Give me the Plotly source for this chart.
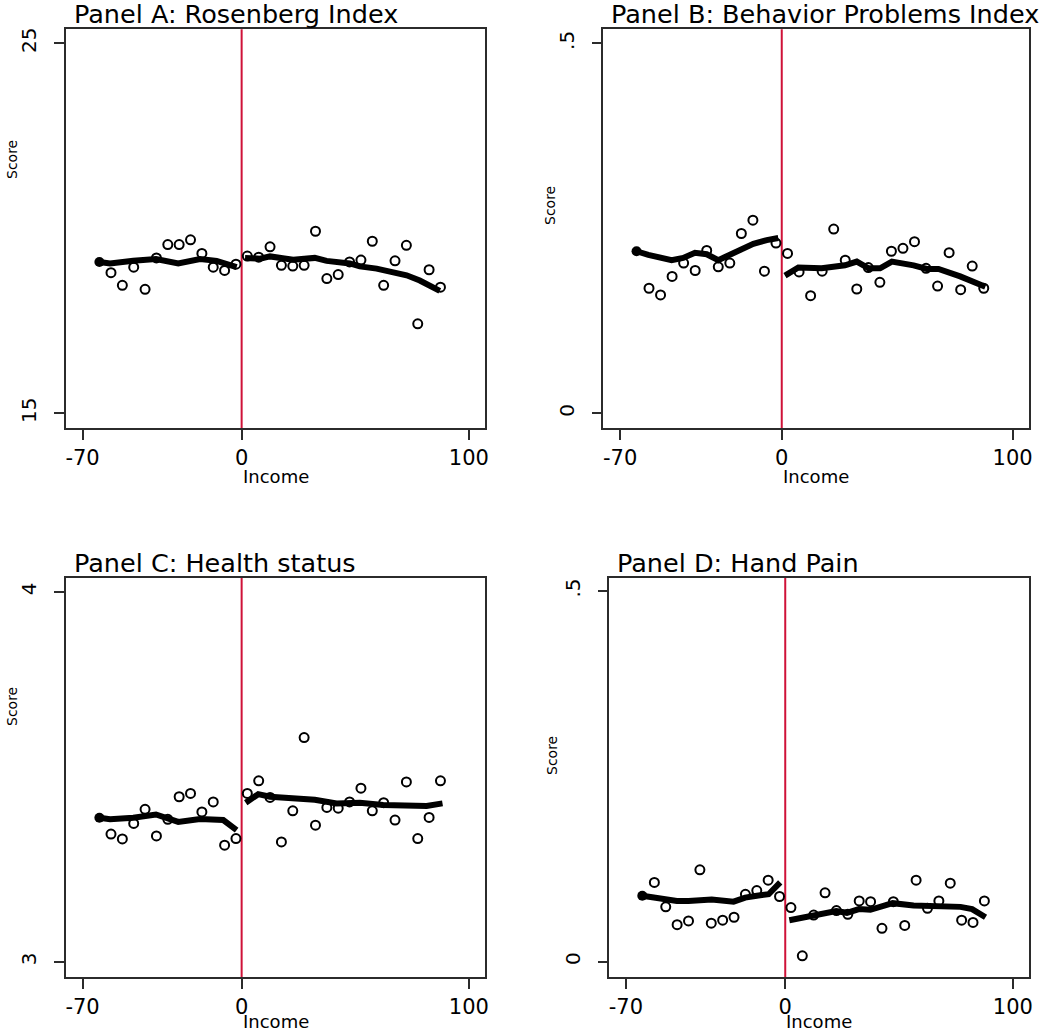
import plotly.graph_objects as go

# ---------------- data ----------------
bins_left = [-57.5, -52.5, -47.5, -42.5, -37.5, -32.5, -27.5, -22.5, -17.5, -12.5, -7.5, -2.5]
bins_right = [2.5, 7.5, 12.5, 17.5, 22.5, 27.5, 32.5, 37.5, 42.5, 47.5, 52.5, 57.5,
              62.5, 67.5, 72.5, 77.5, 82.5, 87.5]

a_left = [18.80, 18.46, 18.95, 18.35, 19.20, 19.56, 19.56, 19.69, 19.32, 18.95, 18.86, 19.03]
a_right = [19.25, 19.22, 19.50, 19.00, 18.98, 19.00, 19.92, 18.64, 18.75, 19.09, 19.14, 19.65,
           18.46, 19.12, 19.54, 17.42, 18.88, 18.41]
a_fit_lx = [-62.6, -57.9, -47.7, -37.7, -27.9, -18.3, -11.0, -6.6, -2.2]
a_fit_ly = [19.09, 19.05, 19.12, 19.17, 19.05, 19.17, 19.12, 19.05, 18.95]
a_fit_rx = [1.5, 8.1, 12.5, 22.7, 32.2, 37.4, 47.6, 52.0, 59.4, 66.7, 72.6, 78.4, 87.2]
a_fit_ry = [19.20, 19.18, 19.24, 19.15, 19.20, 19.12, 19.05, 18.97, 18.91, 18.82, 18.73, 18.59, 18.31]

b_left = [0.169, 0.160, 0.185, 0.203, 0.193, 0.220, 0.198, 0.203, 0.243, 0.261, 0.192, 0.230]
b_right = [0.216, 0.191, 0.159, 0.192, 0.249, 0.207, 0.168, 0.197, 0.177, 0.219, 0.223, 0.232,
           0.196, 0.172, 0.217, 0.167, 0.199, 0.169]
b_fit_lx = [-62.9, -57.8, -47.7, -42.7, -37.6, -32.5, -27.5, -22.4, -17.3, -12.3, -6.5, -1.5]
b_fit_ly = [0.219, 0.214, 0.207, 0.210, 0.217, 0.215, 0.207, 0.215, 0.223, 0.229, 0.234, 0.237]
b_fit_rx = [1.4, 7.2, 17.3, 27.4, 32.5, 37.6, 42.6, 47.7, 57.1, 62.9, 67.9, 77.3, 88.2]
b_fit_ry = [0.186, 0.197, 0.196, 0.200, 0.205, 0.196, 0.196, 0.205, 0.200, 0.195, 0.195, 0.185, 0.171]

c_left = [3.345, 3.332, 3.374, 3.412, 3.340, 3.385, 3.446, 3.455, 3.405, 3.432, 3.315, 3.333]
c_right = [3.455, 3.489, 3.444, 3.324, 3.408, 3.606, 3.369, 3.417, 3.415, 3.432, 3.469, 3.408,
           3.430, 3.383, 3.486, 3.333, 3.390, 3.489]
c_fit_lx = [-62.6, -57.9, -47.7, -37.7, -27.9, -18.3, -8.1, -2.2]
c_fit_ly = [3.389, 3.385, 3.389, 3.398, 3.378, 3.386, 3.383, 3.356]
c_fit_rx = [1.8, 7.3, 12.5, 22.7, 32.2, 41.8, 52.0, 62.3, 71.1, 81.4, 88.4]
c_fit_ry = [3.430, 3.453, 3.446, 3.440, 3.438, 3.428, 3.430, 3.424, 3.424, 3.421, 3.428]

d_left = [0.107, 0.074, 0.050, 0.055, 0.124, 0.052, 0.056, 0.060, 0.091, 0.096, 0.110, 0.088]
d_right = [0.073, 0.008, 0.063, 0.093, 0.069, 0.064, 0.082, 0.081, 0.045, 0.081, 0.049, 0.110,
           0.072, 0.082, 0.106, 0.056, 0.053, 0.082]
d_fit_lx = [-62.8, -57.9, -47.6, -42.5, -32.3, -22.7, -17.6, -12.5, -7.3, -2.2]
d_fit_ly = [0.089, 0.087, 0.082, 0.082, 0.084, 0.081, 0.0865, 0.089, 0.091, 0.107]
d_fit_rx = [1.8, 12.2, 22.4, 27.1, 32.4, 37.4, 47.2, 56.4, 66.7, 77.0, 82.1, 88.0]
d_fit_ry = [0.056, 0.063, 0.0685, 0.066, 0.071, 0.070, 0.079, 0.076, 0.075, 0.074, 0.071, 0.060]

titles = ["Panel A: Rosenberg Index", "Panel B: Behavior Problems Index",
          "Panel C: Health status", "Panel D: Hand Pain"]
x_ticks = [-70, 0, 100]
x_ticktext = ["-70", "0", "100"]
y_ticks = [[15, 25], [0, 0.5], [3, 4], [0, 0.5]]
y_ticktext = [["15", "25"], ["0", ".5"], ["3", "4"], ["0", ".5"]]
y_ranges = [[14.595, 25.378], [-0.0203, 0.519], [2.958, 4.038], [-0.021, 0.518]]
x_range = [-77.3, 107.1]

# ---------------- layout geometry (page pixels) ----------------
W, H = 1050, 1034


def px(p):
    return p / W


def py(p):
    return 1 - p / H


boxes = [  # left, right, top, bottom
    (66, 485, 29.3, 428.3),
    (603.3, 1029, 29.3, 428.3),
    (66, 485, 577.7, 977.3),
    (609.3, 1029, 577.7, 977.3),
]
income_gap = [48, 48, 44.5, 44.5]
score_pos = [(12, 160), (550, 206), (12, 707), (552, 756)]
FONT = "DejaVu Sans"
RED = "#cf1238"
AXC = "#2b2b2b"

panels = [
    (a_left, a_right, a_fit_lx, a_fit_ly, a_fit_rx, a_fit_ry),
    (b_left, b_right, b_fit_lx, b_fit_ly, b_fit_rx, b_fit_ry),
    (c_left, c_right, c_fit_lx, c_fit_ly, c_fit_rx, c_fit_ry),
    (d_left, d_right, d_fit_lx, d_fit_ly, d_fit_rx, d_fit_ry),
]

fig = go.Figure()
layout = dict(width=W, height=H, margin=dict(l=0, r=0, t=0, b=0, pad=0, autoexpand=False),
              paper_bgcolor="white", plot_bgcolor="white", showlegend=False,
              font=dict(family=FONT, color="black"))
annotations = []
shapes = []

for i, (pl, pr, flx, fly, frx, fry) in enumerate(panels):
    n = "" if i == 0 else str(i + 1)
    xa, ya = "x" + n, "y" + n
    l, r, t, b = boxes[i]
    layout["xaxis" + n] = dict(
        domain=[px(l), px(r)], range=x_range, anchor=ya, automargin=False,
        tickvals=x_ticks, ticktext=x_ticktext, ticks="outside", ticklen=10, tickwidth=1.5,
        tickcolor=AXC, showline=True, mirror=True, linecolor=AXC, linewidth=1.5,
        showgrid=False, zeroline=False, tickfont=dict(size=21, family=FONT),
        ticklabelstandoff=0)
    layout["yaxis" + n] = dict(
        domain=[py(b), py(t)], range=y_ranges[i], anchor=xa, automargin=False,
        tickvals=y_ticks[i], ticktext=y_ticktext[i], tickangle=-90,
        ticks="outside", ticklen=10, tickwidth=1.5, tickcolor=AXC,
        showline=True, mirror=True, linecolor=AXC, linewidth=1.5,
        showgrid=False, zeroline=False, tickfont=dict(size=20, family=FONT),
        ticklabelstandoff=10)
    shapes.append(dict(type="line", xref=xa, yref=ya + " domain", x0=0, x1=0, y0=0, y1=1,
                       line=dict(color=RED, width=2), layer="below"))
    for xs, ys in ((bins_left, pl), (bins_right, pr)):
        fig.add_trace(go.Scatter(x=xs, y=ys, xaxis=xa, yaxis=ya, mode="markers",
                                 marker=dict(symbol="circle-open", size=9, color="black",
                                             line=dict(width=2, color="black"))))
    for xs, ys in ((flx, fly), (frx, fry)):
        fig.add_trace(go.Scatter(x=xs, y=ys, xaxis=xa, yaxis=ya, mode="lines",
                                 line=dict(color="black", width=6)))
    fig.add_trace(go.Scatter(x=flx[:1], y=fly[:1], xaxis=xa, yaxis=ya, mode="markers",
                             marker=dict(symbol="circle", size=10, color="black")))
    # panel title
    annotations.append(dict(text=titles[i], xref="paper", yref="paper",
                            x=px(l + 5.5), y=py(t - 15), xanchor="left", yanchor="middle",
                            showarrow=False, font=dict(size=25.5, family=FONT, color="black")))
    # x axis title
    annotations.append(dict(text="Income", xref="paper", yref="paper",
                            x=px((l + r) / 2), y=py(b + income_gap[i]), xanchor="center",
                            yanchor="middle", showarrow=False,
                            font=dict(size=18, family=FONT, color="black")))
    # y axis title
    sx, sy = score_pos[i]
    annotations.append(dict(text="Score", xref="paper", yref="paper", textangle=-90,
                            x=px(sx), y=py(sy), xanchor="center", yanchor="middle",
                            showarrow=False, font=dict(size=14, family=FONT, color="black")))

layout["annotations"] = annotations
layout["shapes"] = shapes
fig.update_layout(**layout)
fig.write_html("out.html", config={"displayModeBar": False},
               post_script="document.body.style.margin='0';")
